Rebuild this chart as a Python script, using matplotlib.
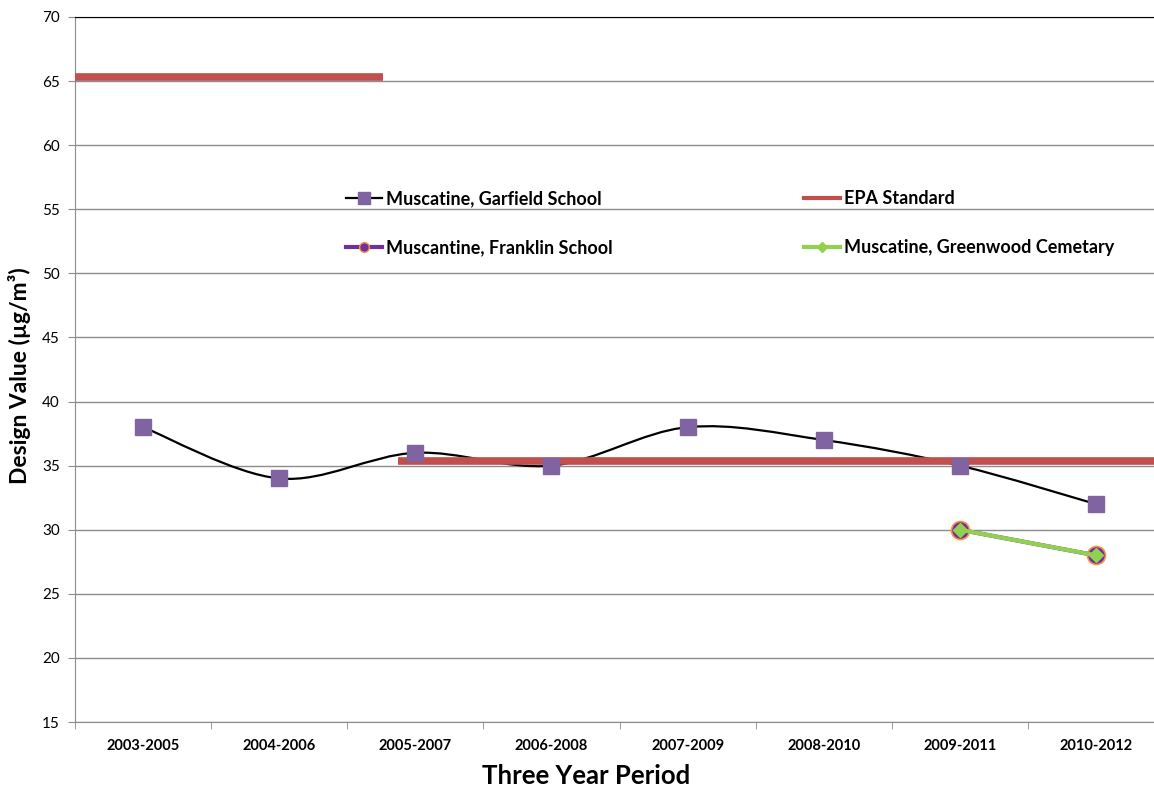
import matplotlib
matplotlib.use("Agg")
import matplotlib.pyplot as plt
from matplotlib.path import Path
from matplotlib.patches import PathPatch
from matplotlib.lines import Line2D
import numpy as np

plt.rcParams['font.family'] = ['Lato', 'DejaVu Sans']

periods = ["2003-2005", "2004-2006", "2005-2007", "2006-2008",
           "2007-2009", "2008-2010", "2009-2011", "2010-2012"]
garfield = [38, 34, 36, 35, 38, 37, 35, 32]
franklin_idx = [6, 7]
franklin = [30, 28]
greenwood_idx = [6, 7]
greenwood = [30, 28]
# EPA standard segments: (start index, end index, value)
epa_start = [-0.5, 1.87]
epa_end = [1.76, 7.6]
epa_value = [65.35, 35.4]

fig = plt.figure(figsize=(11.54, 7.89), dpi=100)
ax = fig.add_axes([0.065, 0.0849, 0.9437, 0.8936])

xs = np.arange(len(periods))

# smooth curve (Excel-like Catmull-Rom Bezier) for Garfield
pts = list(zip(xs, garfield))
verts = [pts[0]]
codes = [Path.MOVETO]
for i in range(len(pts) - 1):
    p0 = pts[i - 1] if i > 0 else pts[i]
    p1 = pts[i]
    p2 = pts[i + 1]
    p3 = pts[i + 2] if i + 2 < len(pts) else pts[i + 1]
    c1 = (p1[0] + (p2[0] - p0[0]) / 6, p1[1] + (p2[1] - p0[1]) / 6)
    c2 = (p2[0] - (p3[0] - p1[0]) / 6, p2[1] - (p3[1] - p1[1]) / 6)
    verts += [c1, c2, p2]
    codes += [Path.CURVE4] * 3
ax.add_patch(PathPatch(Path(verts, codes), facecolor='none', edgecolor='black',
                       lw=1.6, zorder=3))
ax.plot(xs, garfield, ls='none', marker='s', ms=11, color='#8064A2', zorder=5)

for s, e, v in zip(epa_start, epa_end, epa_value):
    ax.plot([s, e], [v, v], color='#C0504D', lw=5.5, solid_capstyle='butt', zorder=4)

ax.plot(franklin_idx, franklin, color='#7030A0', lw=3, marker='o', ms=13,
        mfc='#7030A0', mec='#F79646', mew=1.2, zorder=5)
ax.plot(greenwood_idx, greenwood, color='#92D050', lw=3, marker='D', ms=7,
        mfc='#92D050', mec='#92D050', zorder=6)

ax.set_xlim(-0.5, len(periods) - 0.5)
ax.set_ylim(15, 70)
ax.set_yticks(np.arange(15, 71, 5))
ax.yaxis.grid(True, color='#8C8C8C', lw=1)
ax.set_axisbelow(True)
ax.set_xticks(xs)
ax.set_xticklabels(periods, fontsize=10.5, fontweight='bold')
ax.set_xticks(np.arange(-0.5, len(periods), 1), minor=True)
ax.tick_params(axis='x', which='major', length=0, pad=12)
ax.tick_params(axis='x', which='minor', length=5, color='#8C8C8C')
ax.tick_params(axis='y', labelsize=11, length=5, color='#8C8C8C', pad=6)
for sp in ['left', 'bottom']:
    ax.spines[sp].set_color('#8C8C8C')
ax.spines['right'].set_visible(False)
ax.spines['top'].set_color('black')

ax.set_ylabel('Design Value (µg/m³)', fontsize=16.5, fontweight='bold')
ax.yaxis.set_label_coords(-0.04, 0.492)
ax.set_xlabel('Three Year Period', fontsize=18.5, fontweight='bold')
ax.xaxis.set_label_coords(0.469, -0.059)

handles = [
    Line2D([], [], color='black', lw=1.6, marker='s', ms=8, mfc='#8064A2', mec='#8064A2'),
    Line2D([], [], color='#7030A0', lw=3, marker='o', ms=7, mfc='#7030A0', mec='#F79646'),
    Line2D([], [], color='#C0504D', lw=3),
    Line2D([], [], color='#92D050', lw=3, marker='D', ms=5, mfc='#92D050', mec='#92D050'),
]
labels = ['Muscatine, Garfield School', 'Muscantine, Franklin School',
          'EPA Standard', 'Muscatine, Greenwood Cemetary']
leg = ax.legend(handles, labels, ncol=2, loc='upper left', bbox_to_anchor=(0.234, 0.777),
                frameon=False, prop={'weight': 'bold', 'size': 13},
                handlelength=2.0, handletextpad=0.2, columnspacing=10.6, labelspacing=1.75)

fig.savefig('out.png', dpi=100)
